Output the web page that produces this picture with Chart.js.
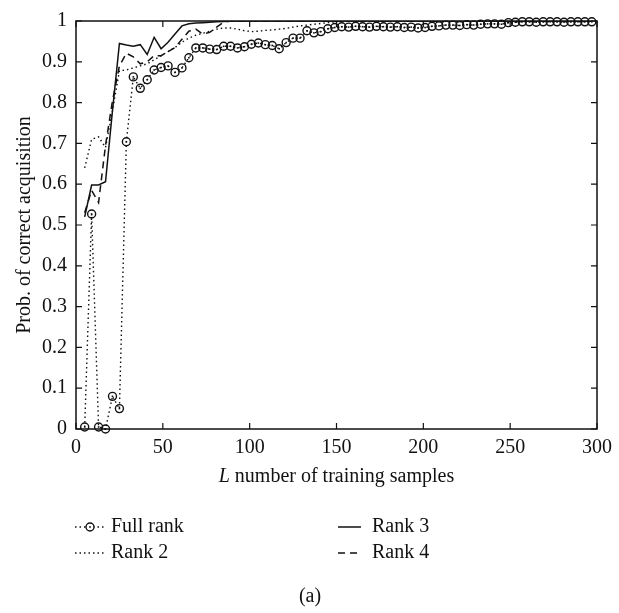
<!DOCTYPE html>
<html>
<head>
<meta charset="utf-8">
<script src="https://cdn.jsdelivr.net/npm/chart.js@4.4.0/dist/chart.umd.min.js"></script>
<style>
  html, body { margin: 0; padding: 0; background: #fff; }
  #wrap { width: 619px; height: 613px; }
</style>
</head>
<body>
<div id="wrap"><canvas id="accChart" width="619" height="613"></canvas></div>
<script>
// training set sizes L
const samples = [5, 9, 13, 17, 21, 25, 29, 33, 37, 41, 45, 49, 53, 57, 61, 65, 69, 73, 77, 81,
    85, 89, 93, 97, 101, 105, 109, 113, 117, 121, 125, 129, 133, 137, 141, 145, 149, 153, 157, 161,
    165, 169, 173, 177, 181, 185, 189, 193, 197, 201, 205, 209, 213, 217, 221, 225, 229, 233, 237, 241,
    245, 249, 253, 257, 261, 265, 269, 273, 277, 281, 285, 289, 293, 297];

const fullRank = [0.005, 0.527, 0.005, 0.000, 0.080, 0.050, 0.704, 0.863, 0.835, 0.856,
    0.880, 0.886, 0.890, 0.874, 0.885, 0.910, 0.934, 0.934, 0.931, 0.930,
    0.938, 0.938, 0.934, 0.937, 0.943, 0.946, 0.942, 0.940, 0.932, 0.947,
    0.958, 0.958, 0.976, 0.971, 0.974, 0.981, 0.984, 0.986, 0.985, 0.987,
    0.986, 0.985, 0.987, 0.986, 0.985, 0.986, 0.984, 0.985, 0.983, 0.984,
    0.987, 0.988, 0.990, 0.990, 0.989, 0.991, 0.990, 0.992, 0.993, 0.993,
    0.992, 0.996, 0.997, 0.998, 0.998, 0.997, 0.998, 0.998, 0.998, 0.997,
    0.998, 0.998, 0.998, 0.998];

const rank2 = [0.640, 0.710, 0.716, 0.690, 0.780, 0.878, 0.880, 0.885, 0.890, 0.895,
    0.905, 0.915, 0.925, 0.935, 0.948, 0.958, 0.965, 0.970, 0.975, 0.980,
    0.983, 0.983, 0.980, 0.976, 0.974, 0.975, 0.977, 0.978, 0.980, 0.982,
    0.985, 0.988, 0.990, 0.992, 0.994, 0.996, 0.998, 1, 1, 1,
    1, 1, 1, 1, 1, 1, 1, 1, 1, 1,
    1, 1, 1, 1, 1, 1, 1, 1, 1, 1,
    1, 1, 1, 1, 1, 1, 1, 1, 1, 1,
    1, 1, 1, 1];

const rank3 = [0.520, 0.598, 0.598, 0.606, 0.780, 0.945, 0.941, 0.938, 0.942, 0.918,
    0.960, 0.932, 0.948, 0.968, 0.988, 0.993, 0.995, 0.996, 0.997, 0.998,
    0.999, 1, 1, 1, 1, 1, 1, 1, 1, 1,
    1, 1, 1, 1, 1, 1, 1, 1, 1, 1,
    1, 1, 1, 1, 1, 1, 1, 1, 1, 1,
    1, 1, 1, 1, 1, 1, 1, 1, 1, 1,
    1, 1, 1, 1, 1, 1, 1, 1, 1, 1,
    1, 1, 1, 1];

const rank4 = [0.530, 0.585, 0.555, 0.695, 0.804, 0.890, 0.921, 0.912, 0.895, 0.900,
    0.915, 0.915, 0.925, 0.935, 0.955, 0.975, 0.980, 0.968, 0.972, 0.985,
    0.997, 1, 1, 1, 1, 1, 1, 1, 1, 1,
    1, 1, 1, 1, 1, 1, 1, 1, 1, 1,
    1, 1, 1, 1, 1, 1, 1, 1, 1, 1,
    1, 1, 1, 1, 1, 1, 1, 1, 1, 1,
    1, 1, 1, 1, 1, 1, 1, 1, 1, 1,
    1, 1, 1, 1];

const xTicks = [0, 50, 100, 150, 200, 250, 300];
const yTicks = [0, 0.1, 0.2, 0.3, 0.4, 0.5, 0.6, 0.7, 0.8, 0.9, 1];

const ink = '#111';
const serif = '"Liberation Serif", "DejaVu Serif", serif';
const fontSize = 20;

const toPoints = vals => vals.map((v, i) => ({ x: samples[i], y: v }));

const series = [
    { label: 'Full rank', data: toPoints(fullRank), borderDash: [1.5, 3], borderWidth: 1.4, marker: true },
    { label: 'Rank 2', data: toPoints(rank2), borderDash: [1.5, 3], borderWidth: 1.4 },
    { label: 'Rank 3', data: toPoints(rank3), borderDash: [], borderWidth: 1.5 },
    { label: 'Rank 4', data: toPoints(rank4), borderDash: [7, 5], borderWidth: 1.5 }
];

// box with inward tick marks on all four sides
const frame = {
    id: 'frame',
    afterDatasetsDraw(chart) {
        const { ctx, chartArea: a, scales: { x, y } } = chart;
        const len = 6;
        ctx.save();
        ctx.strokeStyle = ink;
        ctx.lineWidth = 1.5;
        ctx.strokeRect(a.left, a.top, a.right - a.left, a.bottom - a.top);
        ctx.lineWidth = 1.2;
        ctx.beginPath();
        xTicks.forEach(v => {
            const px = x.getPixelForValue(v);
            ctx.moveTo(px, a.bottom); ctx.lineTo(px, a.bottom - len);
            ctx.moveTo(px, a.top); ctx.lineTo(px, a.top + len);
        });
        yTicks.forEach(v => {
            const py = y.getPixelForValue(v);
            ctx.moveTo(a.left, py); ctx.lineTo(a.left + len, py);
            ctx.moveTo(a.right, py); ctx.lineTo(a.right - len, py);
        });
        ctx.stroke();

        // small dot in the middle of each full-rank ring
        ctx.fillStyle = ink;
        chart.getDatasetMeta(0).data.forEach(pt => {
            ctx.fillRect(pt.x - 0.8, pt.y - 0.8, 1.6, 1.6);
        });
        ctx.restore();
    }
};

// axis titles, two-column legend and the panel caption
const annotations = {
    id: 'annotations',
    afterDraw(chart) {
        const { ctx, chartArea: a } = chart;
        ctx.save();
        ctx.fillStyle = ink;
        ctx.textBaseline = 'middle';

        // x title with italic L
        const cx = (a.left + a.right) / 2;
        const rest = ' number of training samples';
        ctx.font = `italic ${fontSize}px ${serif}`;
        const wL = ctx.measureText('L').width;
        ctx.font = `${fontSize}px ${serif}`;
        const wR = ctx.measureText(rest).width;
        const x0 = cx - (wL + wR) / 2;
        ctx.font = `italic ${fontSize}px ${serif}`;
        ctx.textAlign = 'left';
        ctx.fillText('L', x0, 477);
        ctx.font = `${fontSize}px ${serif}`;
        ctx.fillText(rest, x0 + wL, 477);

        // y title
        ctx.save();
        ctx.translate(25, (a.top + a.bottom) / 2);
        ctx.rotate(-Math.PI / 2);
        ctx.textAlign = 'center';
        ctx.fillText('Prob. of correct acquisition', 0, 0);
        ctx.restore();

        // legend
        const slots = [
            { x0: 75, x1: 105, tx: 111, y: 527 },
            { x0: 75, x1: 105, tx: 111, y: 553 },
            { x0: 338, x1: 361, tx: 372, y: 527 },
            { x0: 338, x1: 361, tx: 372, y: 553 }
        ];
        series.forEach((s, i) => {
            const p = slots[i];
            ctx.save();
            ctx.strokeStyle = ink;
            ctx.lineWidth = s.borderWidth;
            ctx.setLineDash(s.borderDash);
            ctx.beginPath();
            ctx.moveTo(p.x0, p.y);
            ctx.lineTo(p.x1, p.y);
            ctx.stroke();
            if (s.marker) {
                const mx = (p.x0 + p.x1) / 2;
                ctx.setLineDash([]);
                ctx.lineWidth = 1.4;
                ctx.beginPath();
                ctx.arc(mx, p.y, 4, 0, Math.PI * 2);
                ctx.fillStyle = '#fff';
                ctx.fill();
                ctx.stroke();
                ctx.fillStyle = ink;
                ctx.fillRect(mx - 0.8, p.y - 0.8, 1.6, 1.6);
            }
            ctx.restore();
            ctx.textAlign = 'left';
            ctx.font = `${fontSize}px ${serif}`;
            ctx.fillText(s.label, p.tx, p.y);
        });

        // caption
        ctx.textAlign = 'center';
        ctx.fillText('(a)', 310, 597);
        ctx.restore();
    }
};

const tickFont = { family: serif, size: fontSize };

new Chart(document.getElementById('accChart').getContext('2d'), {
    type: 'line',
    data: {
        datasets: series.map(s => ({
            label: s.label,
            data: s.data,
            borderColor: ink,
            borderWidth: s.borderWidth,
            borderDash: s.borderDash,
            tension: 0,
            fill: false,
            pointStyle: 'circle',
            pointRadius: s.marker ? 4 : 0,
            pointHoverRadius: s.marker ? 4 : 0,
            pointBorderWidth: 1.4,
            pointBorderColor: ink,
            pointBackgroundColor: 'rgba(255,255,255,0)',
            clip: s.marker ? false : undefined
        }))
    },
    options: {
        responsive: false,
        animation: false,
        events: [],
        layout: { padding: { top: 12, right: 15, left: 0, bottom: 0 } },
        plugins: {
            legend: { display: false },
            tooltip: { enabled: false }
        },
        scales: {
            x: {
                type: 'linear',
                min: 0,
                max: 300,
                grid: { display: false, drawTicks: false },
                border: { display: false },
                afterBuildTicks: s => { s.ticks = xTicks.map(v => ({ value: v })); },
                afterFit: s => { s.height = 184; },
                ticks: { color: ink, font: tickFont, padding: 7, maxRotation: 0, callback: v => String(v) }
            },
            y: {
                type: 'linear',
                min: 0,
                max: 1,
                grid: { display: false, drawTicks: false },
                border: { display: false },
                afterBuildTicks: s => { s.ticks = yTicks.map(v => ({ value: v })); },
                afterFit: s => { s.width = 76; },
                ticks: { color: ink, font: tickFont, padding: 9, callback: v => String(+v.toFixed(1)) }
            }
        }
    },
    plugins: [frame, annotations]
});
</script>
</body>
</html>
